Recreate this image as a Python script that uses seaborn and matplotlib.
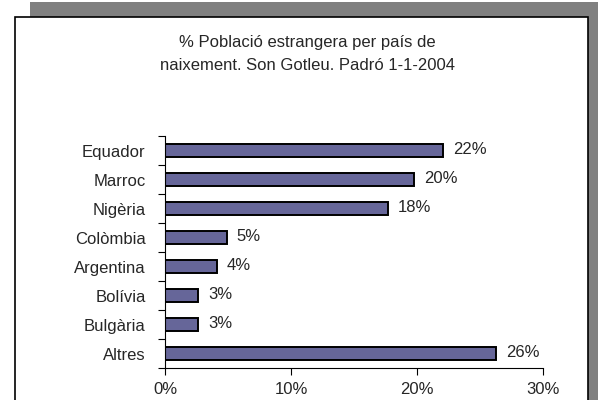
import numpy as np
import pandas as pd
import matplotlib
matplotlib.use("Agg")
import matplotlib.pyplot as plt
from matplotlib.patches import Rectangle
from matplotlib.ticker import FixedLocator, PercentFormatter
import seaborn as sns

countries = ["Equador", "Marroc", "Nigèria", "Colòmbia", "Argentina", "Bolívia", "Bulgària", "Altres"]
pct = [22.1, 19.8, 17.7, 4.9, 4.1, 2.6, 2.6, 26.3]
labels = ["22%", "20%", "18%", "5%", "4%", "3%", "3%", "26%"]

sns.set_style("white")
plt.rcParams['font.family'] = ['Liberation Sans', 'DejaVu Sans']
FS = 12

def main():
    df = pd.DataFrame({"pais": countries, "pct": pct})
    fig = plt.figure(figsize=(5.98, 4), dpi=100)
    # shadow and white panel
    fig.patches.append(Rectangle((30/598, 0), 568/598, 398/400, transform=fig.transFigure,
                                 facecolor="#808080", edgecolor="none", zorder=0))
    fig.patches.append(Rectangle((15/598, -0.05), 573/598, 1.05 - 17/400, transform=fig.transFigure,
                                 facecolor="white", edgecolor="black", linewidth=1.2, zorder=1))

    ax = fig.add_axes([165/598, 1 - 368/400, 378/598, 232/400])
    ax.set_zorder(2)
    ax.patch.set_alpha(0)
    sns.barplot(data=df, x="pct", y="pais", orient="h", color="#666699", edgecolor="black",
                linewidth=1.4, width=0.46, saturation=1, ax=ax)
    for i, (v, lab) in enumerate(zip(pct, labels)):
        ax.text(v + 0.8, i - 0.05, lab, va="center", ha="left", fontsize=FS)

    ax.set_xlim(0, 30)
    ax.set_ylim(len(countries) - 0.5, -0.5)
    ax.set_xticks([0, 10, 20, 30])
    ax.xaxis.set_major_formatter(PercentFormatter(decimals=0))
    ax.set_yticks(range(len(countries)))
    ax.set_yticklabels(countries)
    ax.yaxis.set_minor_locator(FixedLocator(np.arange(-0.5, len(countries), 1)))
    ax.tick_params(axis="y", which="major", length=0, pad=14, labelsize=FS)
    ax.tick_params(axis="y", which="minor", length=5, width=0.8, color="black", left=True)
    ax.tick_params(axis="x", which="major", length=5, width=0.8, color="black", bottom=True,
                   pad=5, labelsize=FS)
    ax.set_xlabel("")
    ax.set_ylabel("")
    for s in ["top", "right"]:
        ax.spines[s].set_visible(False)
    for s in ["left", "bottom"]:
        ax.spines[s].set_color("black")
        ax.spines[s].set_linewidth(0.8)

    fig.text(307/598, 1 - 42/400, "% Població estrangera per país de", ha="center", va="center",
             fontsize=FS, zorder=3)
    fig.text(307/598, 1 - 65/400, "naixement. Son Gotleu. Padró 1-1-2004", ha="center", va="center",
             fontsize=FS, zorder=3)

    fig.savefig("out.png", dpi=100)


if __name__ == '__main__':
    main()
